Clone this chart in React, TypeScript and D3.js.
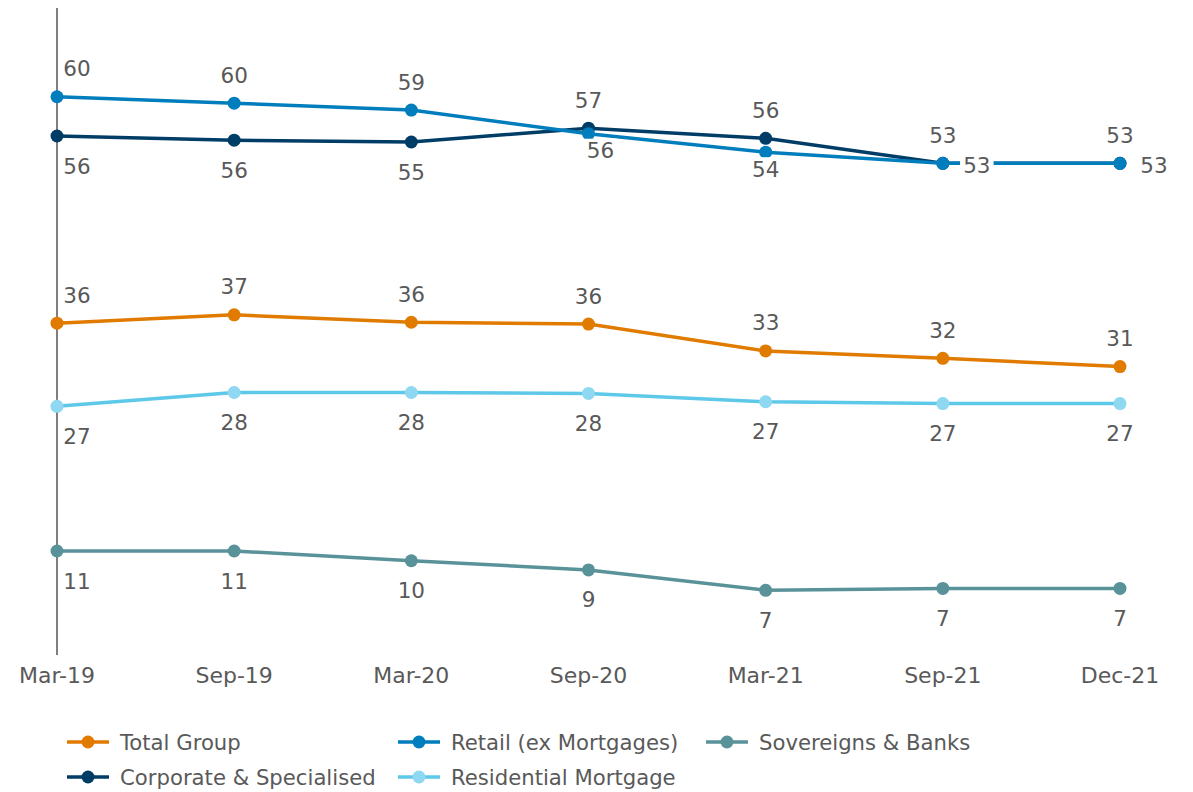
import * as d3 from "d3";

const categories = ["Mar-19", "Sep-19", "Mar-20", "Sep-20", "Mar-21", "Sep-21", "Dec-21"];

const totalGroup = [35.9, 36.8, 36.0, 35.8, 32.9, 32.1, 31.2];
const corporate = [56.15, 55.7, 55.5, 57.0, 55.9, 53.2, 53.2];
const retail = [60.4, 59.7, 58.96, 56.4, 54.4, 53.2, 53.2];
const residential = [26.9, 28.4, 28.4, 28.3, 27.4, 27.2, 27.2];
const sovereigns = [11.25, 11.25, 10.2, 9.2, 7.0, 7.2, 7.2];

const labelText = {
  total: [36, 37, 36, 36, 33, 32, 31],
  corp: [56, 56, 55, 57, 56, 53, 53],
  retail: [60, 60, 59, 56, 54, 53, 53],
  resi: [27, 28, 28, 28, 27, 27, 27],
  sov: [11, 11, 10, 9, 7, 7, 7],
};

// where each value label sits relative to its point
type Place = "above" | "below" | "right";
const placement: Record<string, Place[]> = {
  total: ["above", "above", "above", "above", "above", "above", "above"],
  corp: ["below", "below", "below", "above", "above", "above", "above"],
  retail: ["above", "above", "above", "below", "below", "right", "right"],
  resi: ["below", "below", "below", "below", "below", "below", "below"],
  sov: ["below", "below", "below", "below", "below", "below", "below"],
};

const series = [
  { key: "total", name: "Total Group", values: totalGroup, color: "#e07b00", marker: "#e07b00" },
  { key: "corp", name: "Corporate & Specialised", values: corporate, color: "#003d66", marker: "#003d66" },
  { key: "retail", name: "Retail (ex Mortgages)", values: retail, color: "#007dbd", marker: "#007dbd" },
  { key: "resi", name: "Residential Mortgage", values: residential, color: "#5ec8e9", marker: "#8ed8f1" },
  { key: "sov", name: "Sovereigns & Banks", values: sovereigns, color: "#5a9299", marker: "#5a9299" },
];

const legendOrder = [
  ["total", "retail", "sov"],
  ["corp", "resi"],
];

export default function App() {
  const width = 1193;
  const height = 792;
  const x = d3.scalePoint<string>().domain(categories).range([57, 1120]);
  const y = d3.scaleLinear().domain([0, 70]).range([655, 8]);
  const textColor = "#595959";
  const font = "DejaVu Sans, Verdana, sans-serif";
  const fs = 21.5;

  const line = d3
    .line<number>()
    .x((_, i) => x(categories[i]) as number)
    .y((d) => y(d));

  const labelPos = (key: string, i: number, v: number) => {
    const p = placement[key][i];
    const cx = x(categories[i]) as number;
    const cy = y(v);
    if (p === "right") return { lx: cx + 34, ly: cy + 2 };
    let lx = i === 0 ? cx + 20 : cx;
    let dy = p === "above" ? -28 : 30;
    if (key === "retail" && p === "below") {
      dy = 17;
      if (i === 3) lx += 12;
    }
    return { lx, ly: cy + dy };
  };

  const legendX = [67, 398, 706];
  const legendY = [742, 777];

  return (
    <svg
      width={width}
      height={height}
      style={{ position: "absolute", left: 0, top: 0, background: "#fff" }}
      fontFamily={font}
    >
      <line x1={57} x2={57} y1={y(70)} y2={y(0)} stroke="#7f7f7f" strokeWidth={2} />
      {categories.map((c) => (
        <text
          key={c}
          x={x(c)}
          y={675}
          textAnchor="middle"
          dominantBaseline="central"
          fontSize={22}
          fill={textColor}
        >
          {c}
        </text>
      ))}
      {series.map((s) => (
        <g key={s.key}>
          <path d={line(s.values) || ""} fill="none" stroke={s.color} strokeWidth={3.5} />
          {s.values.map((v, i) => (
            <circle key={i} cx={x(categories[i])} cy={y(v)} r={6.5} fill={s.marker} />
          ))}
        </g>
      ))}
      {series.map((s) =>
        s.values.map((v, i) => {
          const { lx, ly } = labelPos(s.key, i, v);
          const t = String((labelText as any)[s.key][i]);
          const w = t.length * 0.64 * fs + 6;
          return (
            <g key={s.key + i}>
              <rect x={lx - w / 2} y={ly - 12} width={w} height={24} fill="#fff" />
              <text
                x={lx}
                y={ly}
                textAnchor="middle"
                dominantBaseline="central"
                fontSize={fs}
                fill={textColor}
              >
                {t}
              </text>
            </g>
          );
        })
      )}
      {legendOrder.map((row, r) =>
        row.map((key, c) => {
          const s = series.find((d) => d.key === key)!;
          const lx = legendX[c];
          const ly = legendY[r];
          return (
            <g key={key}>
              <line x1={lx} x2={lx + 42} y1={ly} y2={ly} stroke={s.color} strokeWidth={3.5} />
              <circle cx={lx + 21} cy={ly} r={6.5} fill={s.marker} />
              <text
                x={lx + 53}
                y={ly}
                dominantBaseline="central"
                fontSize={21.2}
                fill={textColor}
              >
                {s.name}
              </text>
            </g>
          );
        })
      )}
    </svg>
  );
}
